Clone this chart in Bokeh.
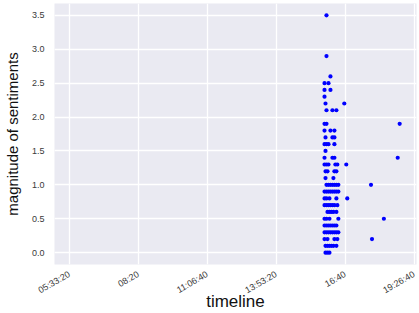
import math
from bokeh.plotting import figure
from bokeh.models import FixedTicker, Range1d, ColumnDataSource
from bokeh.embed import file_html
from bokeh.resources import INLINE

# Time of day in seconds since midnight, and sentiment magnitude
times = [
    57302,
    57302,
    57876,
    57015, 57589,
    57015, 57876,
    57015,
    57159, 59885,
    57302, 58163, 58737,
    57015, 57302, 67919,
    57015, 57876, 58450,
    57159, 58163, 58450,
    57015, 57302, 57589, 58450,
    57159,
    57015, 58163, 58450, 67632,
    57015, 57302, 57589, 58593, 58880, 60172,
    57159, 57446, 58450, 58737,
    57159, 58306,
    57302, 57589, 57876, 58163, 58450, 58737, 59024, 63758,
    57015, 57302, 57589, 57876, 58163, 58450, 58737, 59024,
    57015, 57302, 57733, 58737, 60315,
    57015, 57302, 57589, 57876, 58163, 58450, 58880,
    57446, 57733, 58020, 58306, 58737,
    57015, 57302, 57733, 59024, 65624,
    57015, 57302, 57589, 57876, 58163, 58450, 58737,
    57015, 57302, 57589, 57876, 58163, 58450, 58737, 59024,
    57015, 57446, 58450, 58880, 63902,
    57159, 57446, 57733, 58020, 58306, 58737,
    57159, 57446, 57733,
]
magnitudes = [
    3.5,
    2.9,
    2.6,
    2.5, 2.5,
    2.4, 2.4,
    2.3,
    2.2, 2.2,
    2.1, 2.1, 2.1,
    1.9, 1.9, 1.9,
    1.8, 1.8, 1.8,
    1.7, 1.7, 1.7,
    1.6, 1.6, 1.6, 1.6,
    1.5,
    1.4, 1.4, 1.4, 1.4,
    1.3, 1.3, 1.3, 1.3, 1.3, 1.3,
    1.2, 1.2, 1.2, 1.2,
    1.1, 1.1,
    1.0, 1.0, 1.0, 1.0, 1.0, 1.0, 1.0, 1.0,
    0.9, 0.9, 0.9, 0.9, 0.9, 0.9, 0.9, 0.9,
    0.8, 0.8, 0.8, 0.8, 0.8,
    0.7, 0.7, 0.7, 0.7, 0.7, 0.7, 0.7,
    0.6, 0.6, 0.6, 0.6, 0.6,
    0.5, 0.5, 0.5, 0.5, 0.5,
    0.4, 0.4, 0.4, 0.4, 0.4, 0.4, 0.4,
    0.3, 0.3, 0.3, 0.3, 0.3, 0.3, 0.3, 0.3,
    0.2, 0.2, 0.2, 0.2, 0.2,
    0.1, 0.1, 0.1, 0.1, 0.1, 0.1,
    0.0, 0.0, 0.0,
]

x_ticks = [20000, 30000, 40000, 50000, 60000, 70000]
x_tick_labels = ["05:33:20", "08:20", "11:06:40", "13:53:20", "16:40", "19:26:40"]
y_ticks = [0.0, 0.5, 1.0, 1.5, 2.0, 2.5, 3.0, 3.5]
y_tick_labels = ["0.0", "0.5", "1.0", "1.5", "2.0", "2.5", "3.0", "3.5"]

FONT = "Liberation Sans"

p = figure(
    width=419, height=313,
    output_backend="svg", toolbar_location=None,
    x_range=Range1d(17848, 70358), y_range=Range1d(-0.175, 3.675),
    min_border_left=50, min_border_right=3, min_border_top=3, min_border_bottom=10,
)
p.background_fill_color = "#EAEAF2"
p.border_fill_color = "white"
p.outline_line_color = None

src = ColumnDataSource(dict(t=times, m=magnitudes))
p.scatter("t", "m", source=src, size=4.2, fill_color="blue", line_color=None)

p.xaxis.ticker = FixedTicker(ticks=x_ticks)
p.xaxis.major_label_overrides = {t: l for t, l in zip(x_ticks, x_tick_labels)}
p.yaxis.ticker = FixedTicker(ticks=y_ticks)
p.yaxis.major_label_overrides = {t: l for t, l in zip(y_ticks, y_tick_labels)}

for ax in (p.xaxis[0], p.yaxis[0]):
    ax.axis_line_color = None
    ax.major_tick_line_color = None
    ax.minor_tick_line_color = None
    ax.major_label_text_font = FONT
    ax.major_label_text_font_size = "9px"
    ax.major_label_text_color = "#3a3a3a"
    ax.axis_label_text_font = FONT
    ax.axis_label_text_font_style = "normal"
    ax.axis_label_text_color = "#111111"

p.xaxis.major_label_orientation = math.pi / 6
p.xaxis.major_label_standoff = 3
p.yaxis.major_label_standoff = 4
p.xaxis.axis_label = "timeline"
p.xaxis.axis_label_text_font_size = "17px"
p.xaxis.axis_label_standoff = -11
p.yaxis.axis_label = "magnitude of sentiments"
p.yaxis.axis_label_text_font_size = "15px"
p.yaxis.axis_label_standoff = 8

p.xgrid.grid_line_color = "white"
p.ygrid.grid_line_color = "white"
p.xgrid.grid_line_width = 1.3
p.ygrid.grid_line_width = 1.3

open("out.html", "w").write(file_html(p, INLINE))
